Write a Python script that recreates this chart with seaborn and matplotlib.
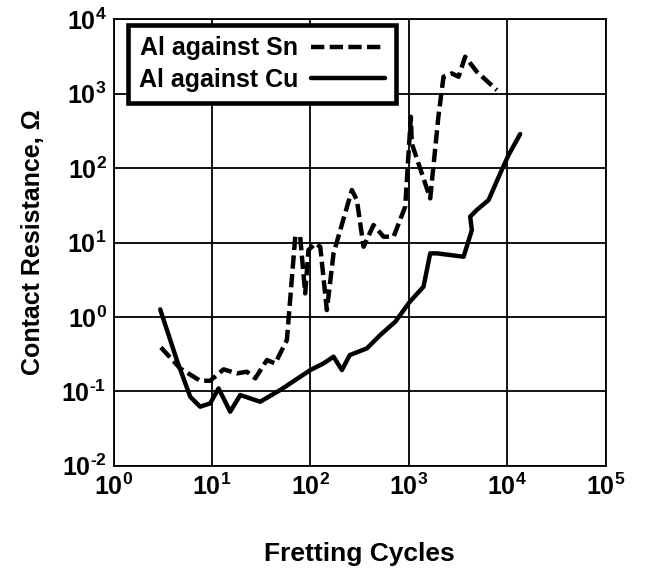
import numpy as np
import pandas as pd
import matplotlib
matplotlib.use("Agg")
import matplotlib.pyplot as plt
import seaborn as sns

# Al against Cu (solid) — log10 values
cu_logx = [0.474, 0.643, 0.779, 0.880, 0.982, 1.067, 1.185, 1.287, 1.49, 1.693,
           2.0, 2.133, 2.235, 2.32, 2.40, 2.574, 2.709, 2.862, 3.01, 3.149,
           3.217, 3.285, 3.556, 3.64, 3.623, 3.69, 3.81, 3.928, 4.013, 4.131]
cu_logy = [0.101, -0.58, -1.073, -1.207, -1.162, -0.961, -1.274, -1.05, -1.14, -0.983,
           -0.714, -0.625, -0.535, -0.714, -0.513, -0.423, -0.244, -0.065, 0.204, 0.406,
           0.854, 0.854, 0.809, 1.167, 1.347, 1.437, 1.571, 1.929, 2.176, 2.458]

# Al against Sn (dashed)
sn_logx = [0.481, 0.677, 0.88, 0.982, 1.118, 1.253, 1.355, 1.44, 1.558, 1.642,
           1.761, 1.846, 1.896, 1.947, 1.98, 2.05, 2.1, 2.167, 2.235, 2.421,
           2.472, 2.54, 2.641, 2.743, 2.845, 2.963, 3.02, 3.03, 3.217, 3.30,
           3.352, 3.437, 3.505, 3.572, 3.69, 3.894]
sn_logy = [-0.41, -0.692, -0.858, -0.858, -0.705, -0.759, -0.737, -0.826, -0.58, -0.625,
           -0.311, 1.078, 1.078, 0.316, 0.898, 0.988, 0.943, 0.092, 0.854, 1.705,
           1.571, 0.943, 1.235, 1.078, 1.078, 1.482, 2.69, 2.33, 1.593, 2.69,
           3.228, 3.273, 3.228, 3.497, 3.296, 3.049]

labels = ["Al against Sn", "Al against Cu"]
x_ticks = [1, 10, 100, 1000, 10000, 100000]
y_ticks = [1e-2, 1e-1, 1, 10, 100, 1000, 10000]

sn = pd.DataFrame({"x": 10 ** np.array(sn_logx), "y": 10 ** np.array(sn_logy)})
cu = pd.DataFrame({"x": 10 ** np.array(cu_logx), "y": 10 ** np.array(cu_logy)})

sns.set_style("white")
plt.rcParams['font.family'] = ['Liberation Sans', 'DejaVu Sans']
plt.rcParams['mathtext.fontset'] = 'custom'
plt.rcParams['mathtext.rm'] = 'Liberation Sans:bold'
plt.rcParams['mathtext.it'] = 'Liberation Sans:bold'
plt.rcParams['mathtext.bf'] = 'Liberation Sans:bold'
for k in ['text.color', 'axes.labelcolor', 'xtick.color', 'ytick.color']:
    plt.rcParams[k] = 'black'


def tick_label(v):
    e = int(round(np.log10(v)))
    exp = f"\\text{{-}}{abs(e)}" if e < 0 else f"{e}"
    return f"$\\mathbf{{10^{{{exp}}}}}$"


fig = plt.figure(figsize=(6.62, 5.71), dpi=100)
ax = fig.add_axes([0.1715, 0.1844, 0.7435, 0.7818])

sns.lineplot(data=sn, x="x", y="y", ax=ax, sort=False, color="black",
             linewidth=3.2, label=labels[0], estimator=None)
ax.lines[-1].set_dashes((3, 1.2))
sns.lineplot(data=cu, x="x", y="y", ax=ax, sort=False, color="black",
             linewidth=3.2, label=labels[1], estimator=None)

ax.set_xscale("log")
ax.set_yscale("log")
ax.set_xlim(1, 1e5)
ax.set_ylim(1e-2, 1e4)
ax.set_xticks(x_ticks)
ax.set_yticks(y_ticks)
ax.set_xticklabels([tick_label(v) for v in x_ticks])
ax.set_yticklabels([tick_label(v) for v in y_ticks])
ax.minorticks_off()
ax.tick_params(axis="both", length=0, labelsize=18)
ax.tick_params(axis="y", pad=5)
ax.tick_params(axis="x", pad=6)
ax.grid(True, which="major", color="black", linewidth=1.3)
for s in ax.spines.values():
    s.set_color("black")
    s.set_linewidth(1.3)

ax.set_xlabel("Fretting Cycles", fontsize=19, fontweight="bold", labelpad=30)
ax.set_ylabel("Contact Resistance, \u03a9", fontsize=18, fontweight="bold", labelpad=12)

leg = ax.legend(loc="upper left", bbox_to_anchor=(0.029, 0.987), markerfirst=False,
                frameon=True, fancybox=False, edgecolor="black", framealpha=1,
                prop={"family": "Liberation Sans", "weight": "bold", "size": 18},
                handlelength=2.95, handletextpad=0.5, borderpad=0.45, labelspacing=0.3,
                borderaxespad=0)
leg.get_frame().set_linewidth(3.3)

fig.savefig("out.png", dpi=100)
